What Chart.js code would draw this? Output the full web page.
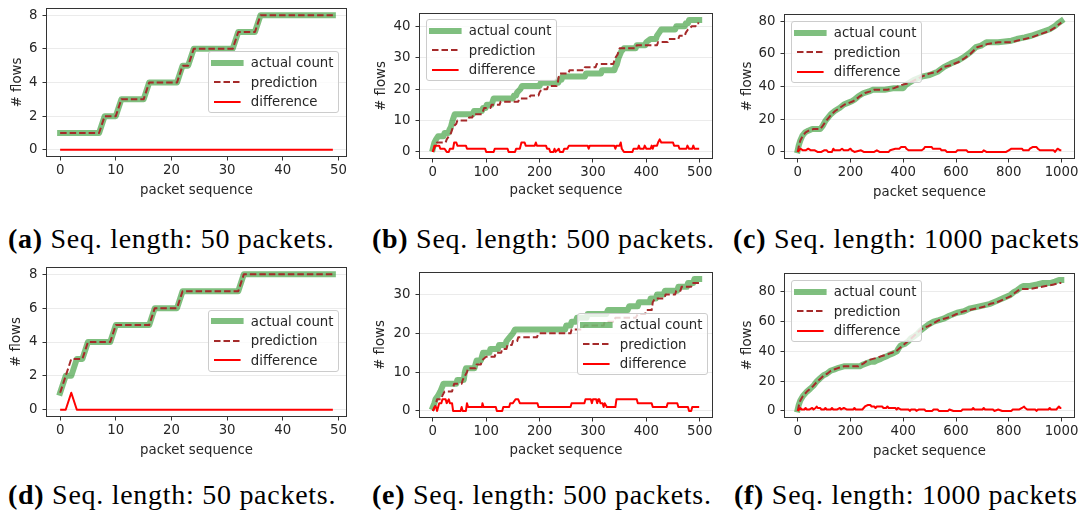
<!DOCTYPE html>
<html>
<head>
<meta charset="utf-8">
<script src="https://cdn.jsdelivr.net/npm/chart.js@4/dist/chart.umd.min.js"></script>
<style>
  html, body { margin: 0; padding: 0; background: #ffffff; }
  body { width: 1079px; height: 518px; position: relative; overflow: hidden; font-family: "DejaVu Sans", sans-serif; }
  canvas { position: absolute; }
  .legend { position: absolute; box-sizing: border-box; border: 1px solid #cccccc; border-radius: 3px;
            background: rgba(255,255,255,0.8); padding: 1px 4.3px 1px 4.3px; font-size: 13.3px; color: #262626; white-space: nowrap; }
  .legend .row { display: flex; align-items: center; height: 19.4px; }
  .legend svg { overflow: visible; flex: none; margin-right: 10.6px; }
  .cap { position: absolute; font-family: "Liberation Serif", "Times New Roman", serif; font-size: 28px; line-height: 28px;
         letter-spacing: 0.72px; white-space: nowrap; color: #000000; }
</style>
</head>
<body>
<script>
// ---------- tick labels ----------
const seqTicks50   = [0, 10, 20, 30, 40, 50];
const seqTicks500  = [0, 100, 200, 300, 400, 500];
const seqTicks1000 = [0, 200, 400, 600, 800, 1000];
const flowTicks8   = [0, 2, 4, 6, 8];
const flowTicks40  = [0, 10, 20, 30, 40];
const flowTicks30  = [0, 10, 20, 30];
const flowTicks80  = [0, 20, 40, 60, 80];

const seriesLabels = ['actual count', 'prediction', 'difference'];
const xAxisLabel = 'packet sequence';
const yAxisLabel = '# flows';

// ---------- (a) 50 packets: one value per packet ----------
const actualA = [1,1,1,1,1,1,1,1, 2,2,2, 3,3,3,3,3, 4,4,4,4,4,4, 5,5, 6,6,6,6,6,6,6,6, 7,7,7,7,
                 8,8,8,8,8,8,8,8,8,8,8,8,8,8];
const predA   = [1,1,1,1,1,1,1,1, 2,2,2, 3,3,3,3,3, 4,4,4,4,4,4, 5,5, 6,6,6,6,6,6,6,6, 7,7,7,7,
                 8,8,8,8,8,8,8,8,8,8,8,8,8,8];
const diffA   = [0,0,0,0,0,0,0,0,0,0, 0,0,0,0,0,0,0,0,0,0, 0,0,0,0,0,0,0,0,0,0,
                 0,0,0,0,0,0,0,0,0,0, 0,0,0,0,0,0,0,0,0,0];

// ---------- (d) 50 packets ----------
const actualD = [1, 2,2, 3,3, 4,4,4,4,4, 5,5,5,5,5,5,5, 6,6,6,6,6, 7,7,7,7,7,7,7,7,7,7,7,
                 8,8,8,8,8,8,8,8,8,8,8,8,8,8,8,8,8];
const predD   = [1, 2, 3,3,3, 4,4,4,4,4, 5,5,5,5,5,5,5, 6,6,6,6,6, 7,7,7,7,7,7,7,7,7,7,7,
                 8,8,8,8,8,8,8,8,8,8,8,8,8,8,8,8,8];
const diffD   = [0,0,1,0,0,0,0,0,0,0, 0,0,0,0,0,0,0,0,0,0, 0,0,0,0,0,0,0,0,0,0,
                 0,0,0,0,0,0,0,0,0,0, 0,0,0,0,0,0,0,0,0,0];

// ---------- (b) 500 packets: [packet, flows] at each change ----------
const actualB = [[0,1],[3,3],[6,4],[10,5],[20,5],[22,6],[29,6],[31,7],[34,8],[37,10],[41,12],[75,12],[77,13],
  [92,13],[94,14],[99,14],[101,15],[110,15],[112,16],[114,17],[150,17],[152,18],[156,18],[158,19],[164,20],
  [167,21],[200,21],[202,22],[235,22],[237,23],[241,23],[243,24],[285,24],[287,25],[315,25],[317,26],[340,26],
  [342,27],[345,28],[348,30],[353,32],[358,33],[380,33],[382,34],[398,34],[400,35],[408,36],[418,36],[420,37],
  [424,38],[428,39],[454,39],[456,40],[472,40],[474,41],[478,41],[480,42],[499,42]];
const predB = [[0,0],[5,2],[8,3],[24,3],[26,4],[30,5],[34,6],[38,8],[44,9],[46,10],[66,10],[68,11],[74,11],
  [76,12],[92,12],[94,13],[96,14],[108,14],[110,15],[125,15],[127,16],[160,16],[162,17],[180,17],[183,18],
  [198,18],[200,19],[204,20],[214,20],[216,21],[232,21],[234,22],[236,24],[238,25],[254,25],[256,26],[283,26],
  [285,27],[305,27],[307,28],[338,28],[340,29],[342,30],[346,31],[350,33],[380,33],[382,34],[420,34],[422,35],
  [440,35],[442,36],[460,36],[462,37],[472,37],[474,38],[478,39],[485,40],[492,40],[494,41],[499,41]];
const diffB = [[0,0],[3,2],[12,2],[14,1],[22,1],[26,0],[30,0],[32,1],[38,1],[40,3],[44,3],[46,2],[62,2],[64,1],
  [98,1],[100,0],[114,0],[116,1],[140,1],[142,0],[154,0],[156,1],[163,1],[166,3],[172,3],[174,2],[191,2],[193,3],
  [195,2],[212,2],[214,1],[218,1],[220,0],[226,0],[228,1],[230,0],[236,1],[238,0],[244,0],[246,1],[252,1],[255,2],
  [290,2],[292,1],[294,2],[340,2],[342,1],[344,2],[350,2],[352,3],[354,1],[358,0],[374,0],[376,1],[384,1],[386,2],
  [388,1],[395,1],[397,2],[400,1],[408,1],[410,2],[412,1],[414,2],[420,2],[422,3],[425,4],[428,3],[450,3],[452,2],
  [460,2],[462,1],[475,1],[477,2],[480,1],[486,1],[488,2],[490,1],[499,1]];

// ---------- (c) 1000 packets ----------
const actualC = [[0,1],[4,4],[10,7],[18,10],[28,12],[40,13],[55,14],[85,14],[95,16],[105,19],[115,21],[125,23],
  [140,25],[160,27],[175,29],[190,30],[205,31],[215,32],[230,34],[250,36],[270,37],[285,38],[330,38],[365,39],
  [400,39],[410,41],[420,42],[440,44],[470,46],[500,47],[530,49],[555,52],[580,54],[610,56],[630,58],[655,61],
  [675,64],[695,65],[715,67],[760,67],[810,68],[830,69],[860,70],[885,71],[920,73],[955,75],[975,77],[990,79],[999,80]];
const predC = [[0,0],[5,4],[10,7],[20,10],[30,12],[42,13],[60,14],[85,14],[95,16],[108,19],[118,21],[128,23],
  [142,25],[160,27],[178,29],[195,30],[210,31],[220,32],[235,34],[255,36],[275,37],[290,38],[340,38],[365,39],
  [380,40],[395,41],[420,42],[445,44],[470,46],[500,48],[530,49],[555,52],[580,53],[610,55],[630,57],[655,60],
  [680,64],[700,65],[720,66],[760,67],[810,67],[830,68],[860,69],[885,70],[920,72],[955,74],[975,76],[990,78],[999,79]];
const diffC = [[0,0],[5,1],[10,2],[20,1],[30,1],[40,2],[50,1],[65,1],[75,0],[90,0],[100,1],[110,1],[115,0],
  [130,0],[135,2],[140,1],[160,1],[168,2],[175,1],[190,1],[200,2],[205,1],[215,0],[240,1],[250,0],[290,0],
  [300,1],[310,0],[345,0],[350,1],[370,2],[385,2],[392,3],[408,3],[412,2],[420,1],[470,1],[478,2],[482,3],
  [508,3],[512,2],[540,2],[545,1],[560,1],[565,0],[600,0],[605,1],[640,1],[645,0],[700,0],[705,1],[715,0],
  [790,0],[800,1],[810,2],[850,2],[855,1],[875,1],[880,2],[890,3],[905,3],[910,2],[918,1],[970,1],[975,0],
  [985,2],[995,1],[999,1]];

// ---------- (e) 500 packets ----------
const actualE = [[0,1],[3,2],[5,3],[10,4],[14,5],[17,6],[20,7],[44,7],[46,8],[58,8],[60,10],[62,11],[78,11],
  [80,12],[82,13],[90,13],[92,14],[94,15],[106,15],[108,16],[122,16],[124,17],[136,17],[138,18],[144,19],
  [150,20],[154,21],[248,21],[250,22],[258,22],[260,23],[268,23],[270,24],[288,24],[290,25],[325,25],[328,26],
  [365,26],[368,27],[384,27],[386,28],[406,28],[408,29],[418,29],[420,30],[432,30],[435,31],[458,31],[460,32],
  [476,32],[478,33],[488,33],[490,34],[499,34]];
const predE = [[0,0],[4,1],[6,2],[8,3],[16,3],[18,4],[22,5],[36,5],[38,6],[40,7],[54,7],[56,8],[60,9],[64,10],
  [66,11],[80,11],[82,12],[90,12],[92,13],[100,14],[116,14],[118,15],[128,15],[130,16],[138,16],[140,17],
  [148,17],[150,18],[158,18],[160,19],[195,19],[198,20],[258,20],[260,21],[280,21],[284,22],[320,22],[322,23],
  [340,23],[342,24],[380,24],[384,25],[398,25],[400,26],[410,26],[412,28],[416,29],[434,29],[436,30],[454,30],
  [456,31],[464,31],[466,32],[484,32],[486,33],[499,33]];
const diffE = [[0,0],[3,1],[6,1],[8,0],[10,1],[12,2],[16,2],[18,3],[24,3],[26,2],[30,3],[32,2],[36,2],[38,0],
  [52,0],[54,1],[56,0],[62,0],[64,2],[66,1],[92,1],[93,2],[95,1],[118,1],[120,0],[130,0],[132,1],[143,1],
  [145,2],[150,2],[155,3],[160,3],[163,2],[196,2],[198,1],[258,1],[260,2],[284,2],[286,3],[296,3],[298,2],
  [300,3],[306,3],[308,2],[310,3],[312,3],[314,2],[318,2],[320,1],[322,2],[326,1],[342,1],[344,3],[382,3],
  [384,2],[410,2],[412,1],[438,1],[440,2],[458,2],[460,1],[478,1],[480,0],[484,0],[486,1],[499,1]];

// ---------- (f) 1000 packets ----------
const actualF = [[0,1],[4,4],[10,7],[20,10],[35,13],[48,15],[60,17],[73,20],[85,22],[98,24],[110,25],[124,27],
  [140,28],[155,29],[175,30],[235,30],[245,31],[260,32],[275,33],[290,33],[300,34],[315,35],[326,36],[340,37],
  [351,38],[365,39],[376,40],[382,42],[390,44],[405,45],[420,47],[430,49],[440,50],[455,52],[465,54],[480,56],
  [495,58],[515,60],[535,61],[553,62],[575,64],[604,66],[630,67],[654,69],[680,70],[705,71],[730,72],[755,74],
  [780,76],[806,78],[820,80],[831,81],[845,83],[856,84],[880,84],[907,85],[930,86],[957,86],[975,87],[990,88],[999,88]];
const predF = [[0,0],[5,4],[10,7],[20,10],[35,13],[48,15],[60,17],[75,20],[88,22],[100,24],[112,25],[126,27],
  [140,28],[155,29],[175,30],[230,30],[250,32],[265,34],[285,35],[305,36],[320,37],[340,38],[355,39],[372,40],
  [385,42],[398,44],[412,46],[425,48],[438,50],[450,52],[462,54],[478,56],[495,57],[515,59],[535,61],[555,62],
  [575,63],[600,65],[630,67],[655,68],[680,69],[705,70],[730,72],[755,73],[780,75],[806,77],[820,79],[835,81],
  [850,82],[880,82],[910,83],[940,84],[970,85],[990,86],[999,86]];
const diffF = [[0,0],[5,1],[10,2],[15,1],[25,1],[30,2],[35,1],[45,1],[55,2],[60,1],[68,2],[72,3],[76,2],[85,2],
  [90,1],[100,1],[105,2],[110,1],[125,1],[130,2],[135,1],[150,1],[160,2],[165,1],[175,2],[185,1],[210,1],
  [215,2],[220,1],[245,1],[255,3],[265,4],[275,4],[280,3],[290,3],[295,2],[300,3],[320,3],[325,2],[335,2],
  [340,3],[345,2],[370,2],[375,1],[380,2],[390,1],[420,1],[425,0],[430,1],[445,1],[450,0],[460,1],[480,1],
  [485,0],[510,0],[515,1],[530,1],[535,0],[570,0],[575,1],[590,0],[620,0],[625,1],[660,1],[665,2],[670,1],
  [700,1],[705,2],[710,1],[740,1],[745,0],[760,1],[775,0],[810,0],[815,1],[840,1],[850,2],[858,3],[862,2],
  [870,1],[900,1],[905,0],[910,1],[950,1],[955,2],[960,1],[980,1],[985,2],[990,3],[995,2],[999,2]];

// ---------- captions ----------
const captionTags  = ['(a)', '(b)', '(c)', '(d)', '(e)', '(f)'];
const captionTexts = ['Seq. length: 50 packets.', 'Seq. length: 500 packets.', 'Seq. length: 1000 packets.',
                      'Seq. length: 50 packets.', 'Seq. length: 500 packets.', 'Seq. length: 1000 packets.'];

// ---------- helpers ----------
const perPacket = vals => vals.map((v, i) => ({ x: i, y: v }));
const fromPairs = pairs => pairs.map(([x, y]) => ({ x, y }));

const TEXT = '#262626';
const FRAME = '#333333';
const FONT = { family: 'DejaVu Sans', size: 13.3 };
const HALF_LINE = 13.3 * 1.2 / 2;

const styles = [
  { borderColor: 'rgba(0,128,0,0.5)', borderWidth: 6, borderCapStyle: 'square', borderJoinStyle: 'round', order: 3 },
  { borderColor: '#a52a2a', borderWidth: 2, borderDash: [6.5, 3], borderCapStyle: 'butt', borderJoinStyle: 'round', order: 2 },
  { borderColor: '#ff0000', borderWidth: 2, borderCapStyle: 'butt', borderJoinStyle: 'round', order: 1 }
];

// Panel layout: canvas rect, plot box (L,R,T,B), axis-title centres, legend corner, caption corner
const panels = [
  { cx: 0,   cy: 0,   w: 360, h: 210, L: 46.5,  R: 346.5,  T: 8.5,   B: 156.5, yT: 17.5,  xT: 190.5,
    series: [perPacket(actualA), perPacket(predA), perPacket(diffA)], xTicks: seqTicks50, yTicks: flowTicks8,
    leg: [208.3, 51.3], cap: [8, 224.5] },
  { cx: 360, cy: 0,   w: 360, h: 210, L: 419.5, R: 712.5,  T: 13.5,  B: 158.5, yT: 381.5, xT: 190.5,
    series: [fromPairs(actualB), fromPairs(predB), fromPairs(diffB)], xTicks: seqTicks500, yTicks: flowTicks40,
    leg: [426.3, 19.3], cap: [372, 224.5] },
  { cx: 720, cy: 0,   w: 359, h: 210, L: 784.5, R: 1074.5, T: 14.5,  B: 158.5, yT: 748,   xT: 192.5,
    series: [fromPairs(actualC), fromPairs(predC), fromPairs(diffC)], xTicks: seqTicks1000, yTicks: flowTicks80,
    leg: [791.3, 21.3], cap: [733, 224.5] },
  { cx: 0,   cy: 258, w: 360, h: 210, L: 46.5,  R: 346.5,  T: 267.5, B: 416.5, yT: 16.5,  xT: 450.5,
    series: [perPacket(actualD), perPacket(predD), perPacket(diffD)], xTicks: seqTicks50, yTicks: flowTicks8,
    leg: [208.3, 309.7], cap: [8, 480.5] },
  { cx: 360, cy: 258, w: 360, h: 210, L: 419.5, R: 712.5,  T: 272.5, B: 417.5, yT: 381,   xT: 451,
    series: [fromPairs(actualE), fromPairs(predE), fromPairs(diffE)], xTicks: seqTicks500, yTicks: flowTicks30,
    leg: [577.3, 313.3], cap: [372, 480.5] },
  { cx: 720, cy: 258, w: 359, h: 210, L: 784.5, R: 1074.5, T: 273.5, B: 417.5, yT: 747.7, xT: 451.5,
    series: [fromPairs(actualF), fromPairs(predF), fromPairs(diffF)], xTicks: seqTicks1000, yTicks: flowTicks80,
    leg: [791.3, 280.3], cap: [734, 480.5] }
];

// Spines drawn on all four sides of the plot box
const axesFrame = {
  id: 'axesFrame',
  afterDatasetsDraw(chart) {
    const { ctx, chartArea: a } = chart;
    ctx.save();
    ctx.strokeStyle = FRAME;
    ctx.lineWidth = 1;
    ctx.strokeRect(a.left, a.top, a.right - a.left, a.bottom - a.top);
    ctx.restore();
  }
};

// 5% margins around the data, like the default autoscale
function padded(lo, hi) { const d = (hi - lo) * 0.05; return [lo - d, hi + d]; }

function buildLegend(chart, pos) {
  const box = document.createElement('div');
  box.className = 'legend';
  box.style.left = pos[0] + 'px';
  box.style.top = pos[1] + 'px';
  chart.data.datasets.forEach(ds => {
    const row = document.createElement('div');
    row.className = 'row';
    const ns = 'http://www.w3.org/2000/svg';
    const svg = document.createElementNS(ns, 'svg');
    svg.setAttribute('width', '26.6');
    svg.setAttribute('height', '12');
    const ln = document.createElementNS(ns, 'line');
    ln.setAttribute('x1', '0'); ln.setAttribute('x2', '26.6');
    ln.setAttribute('y1', '6'); ln.setAttribute('y2', '6');
    ln.setAttribute('stroke', ds.borderColor);
    ln.setAttribute('stroke-width', ds.borderWidth);
    ln.setAttribute('stroke-linecap', ds.borderCapStyle === 'square' ? 'square' : 'butt');
    if (ds.borderDash) ln.setAttribute('stroke-dasharray', ds.borderDash.join(' '));
    svg.appendChild(ln);
    const txt = document.createElement('span');
    txt.textContent = ds.label;
    row.appendChild(svg);
    row.appendChild(txt);
    box.appendChild(row);
  });
  document.body.appendChild(box);
}

function buildPanel(p, idx) {
  const canvas = document.createElement('canvas');
  canvas.width = p.w; canvas.height = p.h;
  canvas.style.left = p.cx + 'px'; canvas.style.top = p.cy + 'px';
  canvas.style.width = p.w + 'px'; canvas.style.height = p.h + 'px';
  document.body.appendChild(canvas);

  const pts = p.series.flat();
  const [xMin, xMax] = padded(Math.min(...pts.map(d => d.x)), Math.max(...pts.map(d => d.x)));
  const [yMin, yMax] = padded(Math.min(...pts.map(d => d.y)), Math.max(...pts.map(d => d.y)));

  const datasets = p.series.map((data, i) => Object.assign({
    label: seriesLabels[i], data, pointRadius: 0, tension: 0, fill: false, clip: 0
  }, styles[i]));

  const chart = new Chart(canvas, {
    type: 'line',
    data: { datasets },
    options: {
      responsive: false, animation: false, devicePixelRatio: 1,
      layout: { padding: {
        left: p.yT - HALF_LINE - p.cx,
        right: p.cx + p.w - p.R,
        top: p.T - p.cy,
        bottom: p.cy + p.h - (p.xT + HALF_LINE)
      } },
      plugins: { legend: { display: false }, tooltip: { enabled: false } },
      scales: {
        x: {
          type: 'linear', min: xMin, max: xMax,
          afterBuildTicks: s => { s.ticks = p.xTicks.map(v => ({ value: v })); },
          afterFit: s => { s.height = p.xT + HALF_LINE - p.B; s.paddingLeft = 0; s.paddingRight = 0; },
          grid: { drawOnChartArea: false, tickLength: 4, tickColor: FRAME, tickWidth: 1 },
          border: { display: false },
          ticks: { font: FONT, color: TEXT, padding: 2, maxRotation: 0, autoSkip: false, callback: v => String(v) },
          title: { display: true, text: xAxisLabel, font: FONT, color: TEXT, padding: 0 }
        },
        y: {
          type: 'linear', min: yMin, max: yMax,
          afterBuildTicks: s => { s.ticks = p.yTicks.map(v => ({ value: v })); },
          afterFit: s => { s.width = p.L - (p.yT - HALF_LINE); s.paddingTop = 0; s.paddingBottom = 0; },
          grid: { color: '#ebebeb', lineWidth: 1, tickLength: 4, tickColor: FRAME, tickWidth: 1 },
          border: { display: false },
          ticks: { font: FONT, color: TEXT, padding: 5, autoSkip: false, callback: v => String(v) },
          title: { display: true, text: yAxisLabel, font: FONT, color: TEXT, padding: 0 }
        }
      }
    },
    plugins: [axesFrame]
  });

  buildLegend(chart, p.leg);

  const cap = document.createElement('div');
  cap.className = 'cap';
  cap.style.left = p.cap[0] + 'px';
  cap.style.top = p.cap[1] + 'px';
  const tag = document.createElement('b');
  tag.textContent = captionTags[idx];
  cap.appendChild(tag);
  cap.appendChild(document.createTextNode(' ' + captionTexts[idx]));
  document.body.appendChild(cap);
}

panels.forEach(buildPanel);
</script>
</body>
</html>
